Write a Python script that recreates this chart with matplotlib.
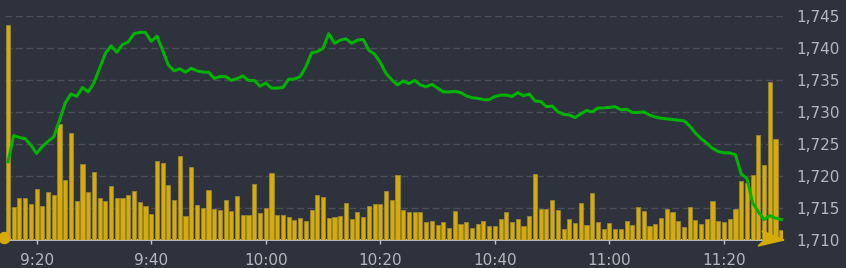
import matplotlib
matplotlib.use("Agg")
import matplotlib.pyplot as plt
from matplotlib.patches import Circle, Polygon

# minute-by-minute intraday data, 9:15 .. 11:30
start_minute = 9 * 60 + 15

price = [
    1722.2, 1726.3, 1726.0, 1725.8, 1724.8, 1723.5, 1724.6, 1725.4, 1726.1, 1728.7,
    1731.4, 1732.8, 1732.4, 1733.8, 1733.1, 1734.5, 1736.8, 1739.1, 1740.3, 1739.3,
    1740.5, 1740.9, 1742.2, 1742.4, 1742.4, 1741.0, 1741.8,
    1739.6, 1737.3, 1736.4, 1736.7, 1736.2, 1736.8, 1736.4, 1736.2, 1736.2, 1735.2,
    1735.5, 1735.5, 1734.9, 1735.2, 1735.6, 1734.9, 1734.9, 1734.0, 1734.5, 1733.7,
    1733.7, 1733.8, 1735.1, 1735.1, 1735.5, 1737.0, 1739.2,
    1739.4, 1739.9, 1742.2, 1740.7, 1741.2, 1741.4, 1740.7, 1741.2, 1741.3, 1739.6,
    1739.0, 1737.7, 1736.0, 1735.0, 1734.2, 1734.8, 1734.4, 1734.9, 1734.2, 1733.9,
    1734.3, 1733.7, 1733.1, 1733.1, 1733.2, 1733.0, 1732.5,
    1732.2, 1732.1, 1731.9, 1731.9, 1732.4, 1732.6, 1732.6, 1732.4, 1733.0, 1732.5,
    1732.8, 1731.7, 1731.6, 1730.8, 1730.9, 1730.0, 1729.6, 1729.5, 1729.1, 1729.7,
    1730.2, 1730.0, 1730.6, 1730.6, 1730.7, 1730.8, 1730.3,
    1730.4, 1729.9, 1729.9, 1730.0, 1729.5, 1729.2, 1729.0, 1728.9, 1728.8, 1728.7,
    1728.6, 1727.8, 1726.7, 1725.8, 1725.1, 1724.3, 1723.8, 1723.6, 1723.6, 1723.3,
    1720.3, 1719.6, 1715.8, 1714.4, 1713.2, 1713.8, 1713.4, 1713.2,
]

volume = [
    21500, 3300, 4200, 4200, 3600, 5100, 3400, 4800, 4500, 11600,
    6000, 10700, 3900, 7600, 4800, 6800, 4200, 3900, 5400, 4200,
    4200, 4500, 4900, 3800, 3400, 2600, 7900,
    7700, 5500, 4000, 8400, 2400, 7300, 3500, 3200, 5000, 3100,
    3000, 4000, 2900, 4400, 2500, 2500, 5600, 2700, 3200, 6700,
    2500, 2500, 2300, 2000, 2200, 1900, 3000,
    4500, 4300, 2200, 2300, 2400, 3700, 2100, 2800, 2300, 3400,
    3600, 3600, 4900, 4000, 6500, 3000, 2800, 2800, 2800, 1800,
    1900, 1500, 1800, 1200, 2900, 1600, 1800,
    1200, 1600, 1900, 1400, 1400, 2100, 2800, 1800, 2100, 1400,
    2400, 6600, 3100, 3100, 4000, 3000, 1100, 2100, 1700, 3700,
    1500, 4700, 1800, 1100, 1700, 1100, 1100,
    1900, 1500, 3300, 2900, 1400, 1600, 2200, 3100, 2800, 1900,
    1300, 3300, 2000, 1600, 2100, 3900, 1900, 1800, 2100, 3100,
    5900, 5700, 6500, 10500, 7500, 15800, 10100, 1000,
]

time_labels = ["9:20", "9:40", "10:00", "10:20", "10:40", "11:00", "11:20"]
price_ticks = [1710, 1715, 1720, 1725, 1730, 1735, 1740, 1745]

bg = "#2e323c"
grid_color = "#4a4e59"
text_color = "#b4b8c0"
bar_color = "#d4ab08"
bar_edge = "#9a8632"
line_color = "#00b300"

x = list(range(len(price)))
tick_pos = []
for lab in time_labels:
    h, m = lab.split(":")
    tick_pos.append(int(h) * 60 + int(m) - start_minute)

fig = plt.figure(figsize=(8.46, 2.68), dpi=100, facecolor=bg)
W, H = 846, 268
left, right, top, bottom = 5, 783, 15.7, 240
ax = fig.add_axes([left / W, 1 - bottom / H, (right - left) / W, (bottom - top) / H])
ax.set_facecolor(bg)
ax_vol = ax.twinx()
ax_line = ax.twinx()

# price axis: grid + labels on the right
ax.set_ylim(1710, 1745)
ax.set_xlim(-0.52, 135.3)
ax.set_yticks(price_ticks)
ax.set_yticklabels([f"{v:,}" for v in price_ticks])
ax.yaxis.tick_right()
ax.tick_params(axis="y", length=0, pad=9.5, labelsize=11, labelcolor=text_color)
ax.set_xticks(tick_pos)
ax.set_xticklabels(time_labels)
ax.tick_params(axis="x", length=3.2, width=1, color="#c0c4cc", pad=6,
               labelsize=11, labelcolor=text_color)
for v in price_ticks[1:]:
    ax.axhline(v, color=grid_color, linewidth=1.0, linestyle=(0, (5, 2.5)), zorder=0)
for s in ["top", "left", "right"]:
    ax.spines[s].set_visible(False)
ax.spines["bottom"].set_color("#c0c4cc")
ax.spines["bottom"].set_linewidth(1.3)

# volume bars
ax_vol.set_ylim(0, 22430)
ax_vol.set_xlim(ax.get_xlim())
ax_vol.bar(x, volume, width=0.72, color=bar_color, edgecolor=bar_edge, linewidth=0.6)
ax_vol.axis("off")

# price line
ax_line.set_ylim(ax.get_ylim())
ax_line.set_xlim(ax.get_xlim())
ax_line.plot(x, price, color=line_color, linewidth=2.2, solid_joinstyle="round")
ax_line.axis("off")

# decorations: start dot and end arrow
dot = Circle((4.5, H - 238), 5.5, transform=None, color=bar_color, zorder=10)
fig.patches.append(dot)
arrow = Polygon([(758, H - 246), (767, H - 238), (762, H - 231), (784, H - 240)],
                closed=True, transform=None, color=bar_color, zorder=10)
fig.patches.append(arrow)

fig.savefig("out.png", dpi=100, facecolor=bg)
